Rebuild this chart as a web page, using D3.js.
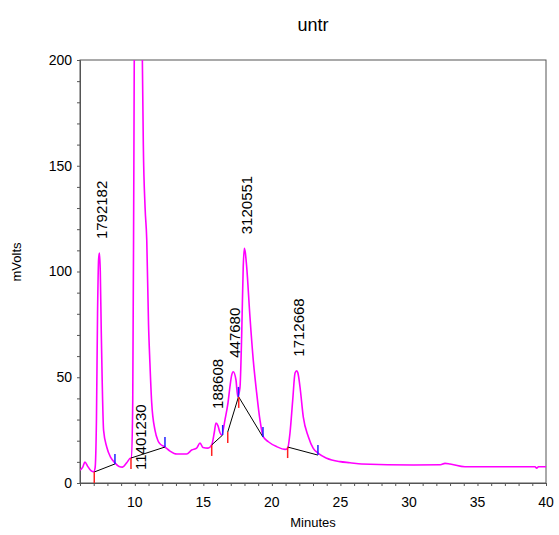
<!DOCTYPE html>
<html>
<head>
<meta charset="utf-8">
<script src="https://cdnjs.cloudflare.com/ajax/libs/d3/7.8.5/d3.min.js"></script>
<style>
  body { margin: 0; background: #fff; }
  text { font-family: Arial, "Liberation Sans", sans-serif; }
</style>
</head>
<body>
<svg id="chart" width="559" height="535"></svg>
<script>
// chromatogram trace, minutes / mVolts
var traceTime = [6.00, 6.20, 6.36, 6.55, 6.80, 7.00, 7.10, 7.20, 7.28, 7.36, 7.42, 7.48, 7.55, 7.62, 7.72, 7.95, 8.25, 8.55, 8.85, 9.10, 9.40, 9.70,
    9.76, 9.85, 9.93, 10.00, 10.30, 10.48, 10.55, 10.62, 10.75, 10.87, 11.00, 11.10, 11.23, 11.47, 11.69, 11.84, 12.20, 12.57, 13.06, 13.78,
    14.15, 14.51, 14.76, 14.97, 15.34, 15.61, 15.80, 15.92, 16.07, 16.20, 16.34, 16.58, 16.80, 16.94, 17.07, 17.18, 17.38, 17.51, 17.67,
    17.80, 17.91, 17.99, 18.06, 18.16, 18.40, 18.64, 18.89, 19.13, 19.37, 19.74, 20.35, 20.96, 21.15, 21.32, 21.52, 21.69, 21.81, 21.90,
    22.05, 22.29, 22.66, 23.02, 23.39, 24.00, 24.97, 25.70, 26.55, 30.32, 32.30, 32.63, 33.00, 34.09, 39.20, 39.32, 39.45, 40.00];
var traceMv = [6.1, 7.5, 9.9, 8.0, 5.8, 5.3, 7.0, 30, 80, 106, 108.7, 100, 72, 48, 25, 17, 12, 9.5, 7.8, 7.5, 9.5, 11.8,
    11.8, 40, 150, 260, 330, 260, 200, 160, 130, 115, 75, 57, 38, 25, 20, 18.5, 17.0, 15.1, 13.7, 13.7,
    15.6, 16.5, 18.9, 16.8, 16.5, 18.0, 24, 28.4, 27, 24, 22.7, 30, 38, 45.5, 51.1, 52.6, 48.7, 40.8, 45,
    70.9, 102.3, 111.0, 109, 102.3, 78.6, 58.2, 42.6, 29.8, 21.9, 19.5, 17.2, 15.9, 16.4, 23.6, 39.2, 52.0, 53.1, 52,
    45.5, 31.3, 21.9, 16.4, 14.0, 11.7, 10.1, 9.6, 9.0, 8.5, 8.6, 9.3, 9.0, 7.7, 7.7, 7.0, 7.7, 7.7];

// integrated peaks
var peakTimes = [7.42, 10.30, 15.92, 17.18, 17.99, 21.81];
var peakAreas = ['1792182', '11401230', '188608', '447680', '3120551', '1712668'];
var baseStartTime = [7.04, 9.72, 15.61, 16.78, 17.58, 21.15];
var baseStartMv = [5.2, 11.8, 18.0, 24.1, 40.7, 17.0];
var baseEndTime = [8.55, 12.20, 16.41, 17.56, 19.35, 23.36];
var baseEndMv = [9.0, 17.0, 22.7, 40.7, 21.7, 13.2];

var xTicks = [10, 15, 20, 25, 30, 35, 40];
var yTicks = [0, 50, 100, 150, 200];

var svg = d3.select('#chart');
var padL = 80, padR = 546, padT = 60, padB = 483;

var x = d3.scaleLinear().domain([6, 40]).range([padL, padR]);
var y = d3.scaleLinear().domain([0, 200]).range([padB, padT]);

svg.append('defs').append('clipPath').attr('id', 'plotclip')
    .append('rect').attr('x', padL).attr('y', padT)
    .attr('width', padR - padL).attr('height', padB - padT);

// frame
svg.append('rect')
    .attr('x', padL).attr('y', padT)
    .attr('width', padR - padL).attr('height', padB - padT)
    .attr('fill', 'none').attr('stroke', '#555').attr('stroke-width', 1);

// axes: minor ticks every 1 min / 10 mV, labels on the majors only
var xAxis = svg.append('g').attr('transform', 'translate(0,' + padB + ')')
    .call(d3.axisBottom(x).ticks(34).tickSize(3).tickFormat(''));
var yAxis = svg.append('g').attr('transform', 'translate(' + padL + ',0)')
    .call(d3.axisLeft(y).ticks(20).tickSize(3).tickFormat(''));
[xAxis, yAxis].forEach(function (a) {
    a.select('.domain').attr('stroke', '#555');
    a.selectAll('.tick line').attr('stroke', '#555');
});

svg.append('g').selectAll('text').data(xTicks).enter().append('text')
    .attr('x', function (d) { return x(d); })
    .attr('y', padB + 24)
    .attr('text-anchor', 'middle')
    .attr('font-size', 14)
    .text(function (d) { return d; });

svg.append('g').selectAll('text').data(yTicks).enter().append('text')
    .attr('x', padL - 8)
    .attr('y', function (d) { return y(d); })
    .attr('dy', '0.35em')
    .attr('text-anchor', 'end')
    .attr('font-size', 14)
    .text(function (d) { return d; });

// the trace
var line = d3.line()
    .curve(d3.curveMonotoneX)
    .x(function (d) { return x(d[0]); })
    .y(function (d) { return y(d[1]); });
var pts = traceTime.map(function (t, i) { return [t, traceMv[i]]; });

svg.append('path')
    .datum(pts)
    .attr('clip-path', 'url(#plotclip)')
    .attr('d', line)
    .attr('fill', 'none')
    .attr('stroke', '#ff00ff')
    .attr('stroke-width', 1.6);

// baselines and start / end marks
var g = svg.append('g');
peakTimes.forEach(function (t, i) {
    g.append('line')
        .attr('x1', x(baseStartTime[i])).attr('y1', y(baseStartMv[i]))
        .attr('x2', x(baseEndTime[i])).attr('y2', y(baseEndMv[i]))
        .attr('stroke', '#000').attr('stroke-width', 1);
    g.append('line')
        .attr('x1', x(baseStartTime[i])).attr('y1', y(baseStartMv[i]))
        .attr('x2', x(baseStartTime[i])).attr('y2', Math.min(y(baseStartMv[i]) + 11, padB))
        .attr('stroke', '#ff2020').attr('stroke-width', 1.5);
    g.append('line')
        .attr('x1', x(baseEndTime[i])).attr('y1', y(baseEndMv[i]))
        .attr('x2', x(baseEndTime[i])).attr('y2', y(baseEndMv[i]) - 10)
        .attr('stroke', '#2020ff').attr('stroke-width', 1.5);
});

// peak area labels, rotated, sitting above the apex
var mvAt = d3.scaleLinear().domain(traceTime).range(traceMv);
peakTimes.forEach(function (t, i) {
    var h = mvAt(t);
    var ly = h > 200 ? y(0) - 13 : y(h) - 14;
    var lx = x(t) + 2;
    svg.append('text')
        .attr('transform', 'translate(' + lx + ',' + ly + ') rotate(-90)')
        .attr('dy', '0.35em')
        .attr('font-size', 15)
        .text(peakAreas[i]);
});

// titles
svg.append('text')
    .attr('x', (padL + padR) / 2).attr('y', 31)
    .attr('text-anchor', 'middle')
    .attr('font-size', 18)
    .text('untr');

svg.append('text')
    .attr('x', (padL + padR) / 2).attr('y', 527)
    .attr('text-anchor', 'middle')
    .attr('font-size', 13)
    .text('Minutes');

svg.append('text')
    .attr('transform', 'translate(21,262) rotate(-90)')
    .attr('text-anchor', 'middle')
    .attr('font-size', 13)
    .text('mVolts');
</script>
</body>
</html>
